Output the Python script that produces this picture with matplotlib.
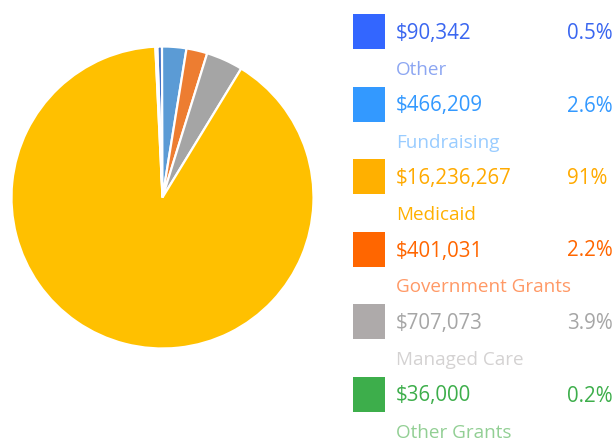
import matplotlib
matplotlib.use("Agg")
import matplotlib.pyplot as plt
from matplotlib.patches import Rectangle

# ---- data ----
categories = ["Other", "Fundraising", "Medicaid", "Government Grants", "Managed Care", "Other Grants"]
values = [90342, 466209, 16236267, 401031, 707073, 36000]
pct_labels = ["0.5%", "2.6%", "91%", "2.2%", "3.9%", "0.2%"]

# pie order (clockwise from the top) and pie colours
pie_order = ["Other", "Fundraising", "Government Grants", "Managed Care", "Medicaid", "Other Grants"]
pie_colors = {"Other": "#4472C4", "Fundraising": "#5B9BD5", "Government Grants": "#ED7D31",
              "Managed Care": "#A5A5A5", "Medicaid": "#FFC000", "Other Grants": "#70AD47"}

# legend colours: square / value text / category label
sq_colors = ["#3366FF", "#3399FF", "#FFB000", "#FF6600", "#AEAAAA", "#3DAE4B"]
val_colors = ["#3A66F0", "#3399FF", "#FFAA00", "#FF6600", "#A6A6A6", "#3DAE4B"]
lab_colors = ["#8CA6F2", "#99CCFF", "#FFB000", "#FF9966", "#D4D2D2", "#92CF94"]

plt.rcParams['font.family'] = ['Open Sans', 'DejaVu Sans']

W, H = 616, 438
fig = plt.figure(figsize=(W / 100, H / 100), dpi=100)

# ---- pie ----
cx, cy, r = 162.5, 197.5, 151
pax = fig.add_axes([(cx - r) / W, (H - cy - r) / H, 2 * r / W, 2 * r / H])
vals_by_cat = dict(zip(categories, values))
pax.pie([vals_by_cat[c] for c in pie_order], colors=[pie_colors[c] for c in pie_order],
        startangle=92, counterclock=False, radius=1,
        wedgeprops=dict(edgecolor="white", linewidth=1.6))
pax.set_xlim(-1.0, 1.0)
pax.set_ylim(-1.0, 1.0)
pax.set_aspect("equal")
pax.axis("off")

# ---- legend drawn in pixel coordinates ----
lax = fig.add_axes([0, 0, 1, 1])
lax.set_xlim(0, W)
lax.set_ylim(H, 0)
lax.axis("off")

step = 72.5
for i, cat in enumerate(categories):
    top = 14 + step * i
    lax.add_patch(Rectangle((353, top), 32, 35, facecolor=sq_colors[i], edgecolor="none"))
    lax.text(396, 33.5 + step * i, f"${values[i]:,}", color=val_colors[i], fontsize=14.8,
             va="center", ha="left")
    lax.text(567.5, 33.5 + step * i, pct_labels[i], color=val_colors[i], fontsize=14.8,
             va="center", ha="left")
    lax.text(396, 70 + step * i, cat, color=lab_colors[i], fontsize=13.6,
             va="center", ha="left", clip_on=False)

fig.savefig("out.png", dpi=100, facecolor="white")
